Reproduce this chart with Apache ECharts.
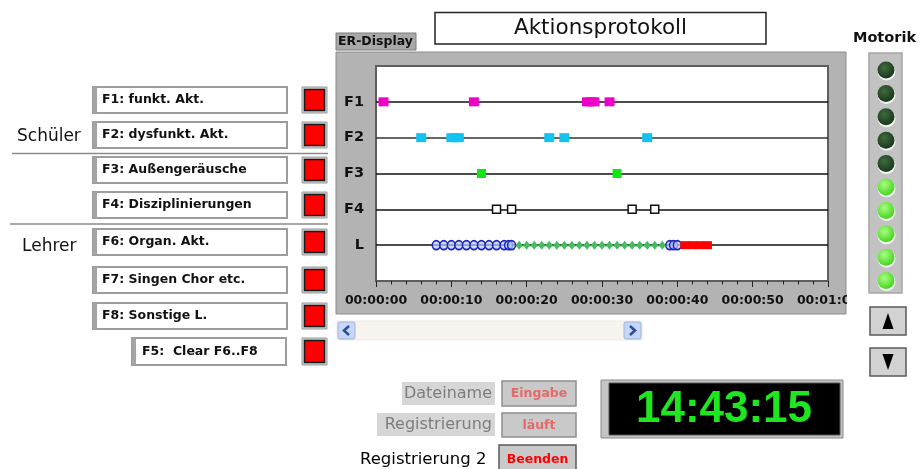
<!DOCTYPE html>
<html>
<head>
<meta charset="utf-8">
<script src="https://cdn.jsdelivr.net/npm/echarts@6/dist/echarts.min.js"></script>
<style>
html,body{margin:0;padding:0;background:#fff;}
#c{width:920px;height:469px;}
</style>
</head>
<body>
<div id="c"></div>
<script>
// ---- data (times in seconds) ----
const rowNames = ['F1', 'F2', 'F3', 'F4', 'L'];
const f1Times = [1, 13, 28, 28.5, 29, 31];
const f2Times = [6, 10, 10.5, 11, 23, 25, 36];
const f3Times = [14, 32];
const f4Times = [16, 18, 34, 37];
const lCircleTimes = [8, 9, 10, 11, 12, 13, 14, 15, 16, 17, 17.6, 18, 39, 39.5, 40];
const lDiamondTimes = [19, 20, 21, 22, 23, 24, 25, 26, 27, 28, 29, 30, 31, 32, 33, 34, 35, 36, 37, 38];
const lRedTimes = [41, 42, 43, 44];
const xTicks = [0, 10, 20, 30, 40, 50, 60];
const buttonLabels = ['F1: funkt. Akt.', 'F2: dysfunkt. Akt.', 'F3: Außengeräusche', 'F4: Disziplinierungen',
  'F6: Organ. Akt.', 'F7: Singen Chor etc.', 'F8: Sonstige L.'];
const clearLabel = 'F5:  Clear F6..F8';
const ledStates = [0, 0, 0, 0, 0, 1, 1, 1, 1, 1];
const clockText = '14:43:15';

const FONT = 'DejaVu Sans';
function rowVal(name) { return 5 - rowNames.indexOf(name); }
function pts(times, name) { return times.map(t => [t, rowVal(name)]); }
function pad(n) { return (n < 10 ? '0' : '') + n; }
function fmtTime(v) { const m = Math.floor(v / 60), s = Math.round(v % 60); return '00:' + pad(m) + ':' + pad(s); }

// ---- decorative UI (graphic) ----
const g = [];
// chart frame
g.push({type: 'rect', z: -5, shape: {x: 336, y: 52, width: 510, height: 262}, style: {fill: '#b3b3b3', stroke: '#8c8c8c', lineWidth: 1}});
// ER-Display tag
g.push({type: 'rect', shape: {x: 336, y: 33, width: 80, height: 17}, style: {fill: '#a9a9a9', stroke: '#7c7c7c', lineWidth: 1}});
g.push({type: 'text', x: 338, y: 42, style: {text: 'ER-Display', font: 'bold 12.5px ' + FONT, fill: '#111', textVerticalAlign: 'middle'}});
// Title
g.push({type: 'rect', shape: {x: 435, y: 12.5, width: 331, height: 31.5}, style: {fill: '#fff', stroke: '#222', lineWidth: 1.5}});
g.push({type: 'text', x: 600.5, y: 28, style: {text: 'Aktionsprotokoll', font: '21.5px ' + FONT, fill: '#111', textAlign: 'center', textVerticalAlign: 'middle'}});
// scrollbar
g.push({type: 'rect', shape: {x: 337, y: 321, width: 305, height: 19}, style: {fill: '#f6f4ed', stroke: '#ecebe4', lineWidth: 1}});
g.push({type: 'rect', shape: {x: 338, y: 322, width: 17, height: 17, r: 2}, style: {fill: '#c6d6f6', stroke: '#9fb3de', lineWidth: 1}});
g.push({type: 'polyline', shape: {points: [[349, 326], [344, 330.5], [349, 335]]}, style: {stroke: '#2b4c9e', lineWidth: 2.5, fill: null}});
g.push({type: 'rect', shape: {x: 624, y: 322, width: 17, height: 17, r: 2}, style: {fill: '#c6d6f6', stroke: '#9fb3de', lineWidth: 1}});
g.push({type: 'polyline', shape: {points: [[630, 326], [635, 330.5], [630, 335]]}, style: {stroke: '#2b4c9e', lineWidth: 2.5, fill: null}});
// clip the last tick label at frame edge
g.push({type: 'rect', z: 50, shape: {x: 847, y: 286, width: 21, height: 26}, style: {fill: '#fff'}});

// left panel
const boxTops = [87, 122, 157, 192, 229, 267, 303];
buttonLabels.forEach((lab, i) => {
  const y = boxTops[i];
  g.push({type: 'rect', shape: {x: 93, y: y, width: 194, height: 26}, style: {fill: '#fff', stroke: '#9c9c9c', lineWidth: 2}});
  g.push({type: 'rect', shape: {x: 93, y: y, width: 4, height: 26}, style: {fill: '#a4a4a4'}});
  g.push({type: 'text', x: 102, y: y + 13, style: {text: lab, font: 'bold 12.5px ' + FONT, fill: '#111', textVerticalAlign: 'middle'}});
  g.push({type: 'rect', shape: {x: 302, y: y, width: 25, height: 26}, style: {fill: '#cfcfcf', stroke: '#9a9a9a', lineWidth: 1}});
  g.push({type: 'rect', shape: {x: 304.5, y: y + 2.5, width: 20, height: 21}, style: {fill: '#ff0000', stroke: '#1a1a1a', lineWidth: 1.5}});
});
// F5
g.push({type: 'rect', shape: {x: 132, y: 338, width: 154, height: 27}, style: {fill: '#fff', stroke: '#9c9c9c', lineWidth: 2}});
g.push({type: 'rect', shape: {x: 132, y: 338, width: 4, height: 27}, style: {fill: '#a4a4a4'}});
g.push({type: 'text', x: 142, y: 351.5, style: {text: clearLabel, font: 'bold 12.5px ' + FONT, fill: '#111', textVerticalAlign: 'middle'}});
g.push({type: 'rect', shape: {x: 302, y: 338, width: 25, height: 27}, style: {fill: '#cfcfcf', stroke: '#9a9a9a', lineWidth: 1}});
g.push({type: 'rect', shape: {x: 304.5, y: 340.5, width: 20, height: 22}, style: {fill: '#ff0000', stroke: '#1a1a1a', lineWidth: 1.5}});
// separators
g.push({type: 'line', shape: {x1: 12, y1: 153.5, x2: 328, y2: 153.5}, style: {stroke: '#8a8a8a', lineWidth: 1.5}});
g.push({type: 'line', shape: {x1: 10, y1: 224, x2: 328, y2: 224}, style: {stroke: '#8a8a8a', lineWidth: 1.5}});
g.push({type: 'text', x: 17, y: 137, style: {text: 'Schüler', font: '17px ' + FONT, fill: '#111', textVerticalAlign: 'middle'}});
g.push({type: 'text', x: 22, y: 246.5, style: {text: 'Lehrer', font: '17px ' + FONT, fill: '#111', textVerticalAlign: 'middle'}});

// Motorik
g.push({type: 'text', x: 884.5, y: 38, style: {text: 'Motorik', font: 'bold 14.5px ' + FONT, fill: '#111', textAlign: 'center', textVerticalAlign: 'middle'}});
g.push({type: 'rect', shape: {x: 869, y: 53, width: 33, height: 240}, style: {fill: '#c2c2c2', stroke: '#a6a6a6', lineWidth: 1.5}});
ledStates.forEach((on, i) => {
  const cy = 70 + i * 23.4;
  g.push({type: 'circle', shape: {cx: 886.5, cy: cy + 1.5, r: 9}, style: {fill: '#f4f4f4'}});
  g.push({type: 'circle', shape: {cx: 886, cy: cy, r: 8.5}, style: {
    fill: new echarts.graphic.RadialGradient(0.4, 0.35, 0.7, on ?
      [{offset: 0, color: '#a8ff80'}, {offset: 1, color: '#3ed21a'}] :
      [{offset: 0, color: '#3f6b3f'}, {offset: 1, color: '#173417'}])
  }});
});
// arrow buttons
g.push({type: 'rect', shape: {x: 870, y: 307, width: 36, height: 28}, style: {fill: '#d2d2d2', stroke: '#5a5a5a', lineWidth: 1.5}});
g.push({type: 'polygon', shape: {points: [[882.5, 329], [893.5, 329], [888, 313]]}, style: {fill: '#000'}});
g.push({type: 'rect', shape: {x: 870, y: 348, width: 36, height: 28}, style: {fill: '#d2d2d2', stroke: '#5a5a5a', lineWidth: 1.5}});
g.push({type: 'polygon', shape: {points: [[882.5, 354], [893.5, 354], [888, 370]]}, style: {fill: '#000'}});

// bottom controls
g.push({type: 'rect', shape: {x: 402, y: 382, width: 93, height: 23}, style: {fill: '#d6d6d6'}});
g.push({type: 'text', x: 492, y: 394, style: {text: 'Dateiname', font: '16px ' + FONT, fill: '#7d7d7d', textAlign: 'right', textVerticalAlign: 'middle'}});
g.push({type: 'rect', shape: {x: 502, y: 381, width: 74, height: 25}, style: {fill: '#c9c9c9', stroke: '#8e8e8e', lineWidth: 1.5}});
g.push({type: 'text', x: 539, y: 394, style: {text: 'Eingabe', font: 'bold 12.5px ' + FONT, fill: '#e46a6a', textAlign: 'center', textVerticalAlign: 'middle'}});
g.push({type: 'rect', shape: {x: 377, y: 413, width: 118, height: 23}, style: {fill: '#d6d6d6'}});
g.push({type: 'text', x: 492, y: 425, style: {text: 'Registrierung', font: '16px ' + FONT, fill: '#7d7d7d', textAlign: 'right', textVerticalAlign: 'middle'}});
g.push({type: 'rect', shape: {x: 502, y: 413, width: 74, height: 24}, style: {fill: '#c9c9c9', stroke: '#8e8e8e', lineWidth: 1.5}});
g.push({type: 'text', x: 539, y: 425.5, style: {text: 'läuft', font: 'bold 12.5px ' + FONT, fill: '#e46a6a', textAlign: 'center', textVerticalAlign: 'middle'}});
g.push({type: 'text', x: 360, y: 460, style: {text: 'Registrierung 2', font: '16.5px ' + FONT, fill: '#000', textVerticalAlign: 'middle'}});
g.push({type: 'rect', shape: {x: 499, y: 445, width: 77, height: 27}, style: {fill: '#c9c9c9', stroke: '#5a5a5a', lineWidth: 1.5}});
g.push({type: 'text', x: 537.5, y: 460, style: {text: 'Beenden', font: 'bold 12.5px ' + FONT, fill: '#ff0000', textAlign: 'center', textVerticalAlign: 'middle'}});
// clock
g.push({type: 'rect', shape: {x: 601, y: 380, width: 242, height: 58}, style: {fill: '#c4c4c4', stroke: '#8a8a8a', lineWidth: 1}});
g.push({type: 'rect', shape: {x: 609, y: 383, width: 231, height: 52}, style: {fill: '#000', stroke: '#555', lineWidth: 1}});
g.push({type: 'text', x: 724, y: 410, style: {text: clockText, font: 'bold 44px "Liberation Sans"', fill: '#1fe61f', textAlign: 'center', textVerticalAlign: 'middle'}});

const chart = echarts.init(document.getElementById('c'), null, {renderer: 'canvas'});
chart.setOption({
  animation: false,
  backgroundColor: '#fff',
  graphic: {elements: g},
  grid: {left: 376, right: 92, top: 66, height: 215, show: true, backgroundColor: '#fff', borderColor: '#5e5e5e', borderWidth: 2, containLabel: false},
  xAxis: {
    type: 'value', min: xTicks[0], max: xTicks[xTicks.length - 1], interval: 10, offset: 3,
    axisLine: {show: false},
    axisTick: {show: true, length: 6, lineStyle: {color: '#222', width: 1}},
    minorTick: {show: true, splitNumber: 5, length: 3.5, lineStyle: {color: '#222', width: 1}},
    splitLine: {show: false},
    axisLabel: {margin: 10, formatter: fmtTime, fontFamily: FONT, fontWeight: 'bold', fontSize: 12.5, color: '#111', showMaxLabel: true}
  },
  yAxis: {
    type: 'value', min: 0, max: 6, interval: 1,
    axisLine: {show: false}, axisTick: {show: false},
    splitLine: {show: true, lineStyle: {color: ['#5e5e5e', '#111', '#111', '#111', '#333', '#111', '#5e5e5e'], width: 1.5}},
    axisLabel: {margin: 12, fontFamily: FONT, fontWeight: 'bold', fontSize: 14.5, color: '#111',
      formatter: v => (v >= 1 && v <= 5) ? rowNames[5 - v] : ''}
  },
  series: [
    {name: 'F1', type: 'scatter', symbol: 'rect', symbolSize: [10, 9], itemStyle: {color: '#ee00c8', opacity: 1}, data: pts(f1Times, 'F1')},
    {name: 'F2', type: 'scatter', symbol: 'rect', symbolSize: [10, 9], itemStyle: {color: '#12c3f2', opacity: 1}, data: pts(f2Times, 'F2')},
    {name: 'F3', type: 'scatter', symbol: 'rect', symbolSize: [9, 9], itemStyle: {color: '#12e612', opacity: 1}, data: pts(f3Times, 'F3')},
    {name: 'F4', type: 'scatter', symbol: 'rect', symbolSize: [8, 8], itemStyle: {color: '#fff', borderColor: '#111', borderWidth: 1.5, opacity: 1}, data: pts(f4Times, 'F4')},
    {name: 'L-circle', type: 'scatter', symbol: 'circle', symbolSize: [8, 9], itemStyle: {color: 'rgba(190,200,255,0.7)', borderColor: '#1a26b8', borderWidth: 1.5, opacity: 1}, data: pts(lCircleTimes, 'L')},
    {name: 'L-diamond', type: 'line', symbol: 'diamond', symbolSize: [7, 9], itemStyle: {color: '#45bb62', borderWidth: 0}, lineStyle: {color: '#1f7a2e', width: 2}, data: pts(lDiamondTimes, 'L')},
    {name: 'L-red', type: 'scatter', symbol: 'rect', symbolSize: [9, 8], itemStyle: {color: '#ff0000', opacity: 1}, data: pts(lRedTimes, 'L')}
  ]
});
</script>
</body>
</html>
